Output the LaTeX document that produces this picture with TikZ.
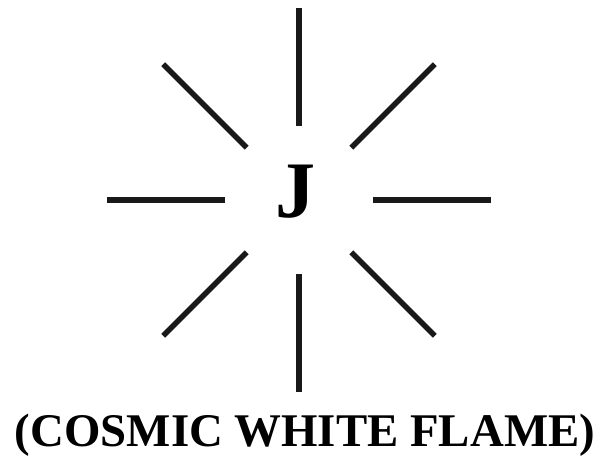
\documentclass[tikz,border=0pt]{standalone}
\usepackage{fontspec}
\setmainfont{Liberation Serif}
\usetikzlibrary{calc}
\begin{document}
\begin{tikzpicture}[
    x=0.025cm, y=-0.025cm,
    ray/.style={line width=3.8pt, black!90},
    letter/.style={font=\fontsize{57}{57}\selectfont\bfseries, inner sep=0pt},
    caption/.style={font=\fontsize{33.3}{36}\selectfont\bfseries, inner sep=0pt}
  ]
  \useasboundingbox (0,0) rectangle (604,455);

  \node[letter, anchor=base] (jay) at (296,217) {J};

  % eight rays round the letter
  \foreach \a in {0,45,...,315}
    \draw[ray] ($(299,200)+(\a:74)$) -- ($(299,200)+(\a:192)$);

  \node[caption, anchor=base] (flame) at (305,446) {(COSMIC WHITE FLAME)};

\end{tikzpicture}
\end{document}
